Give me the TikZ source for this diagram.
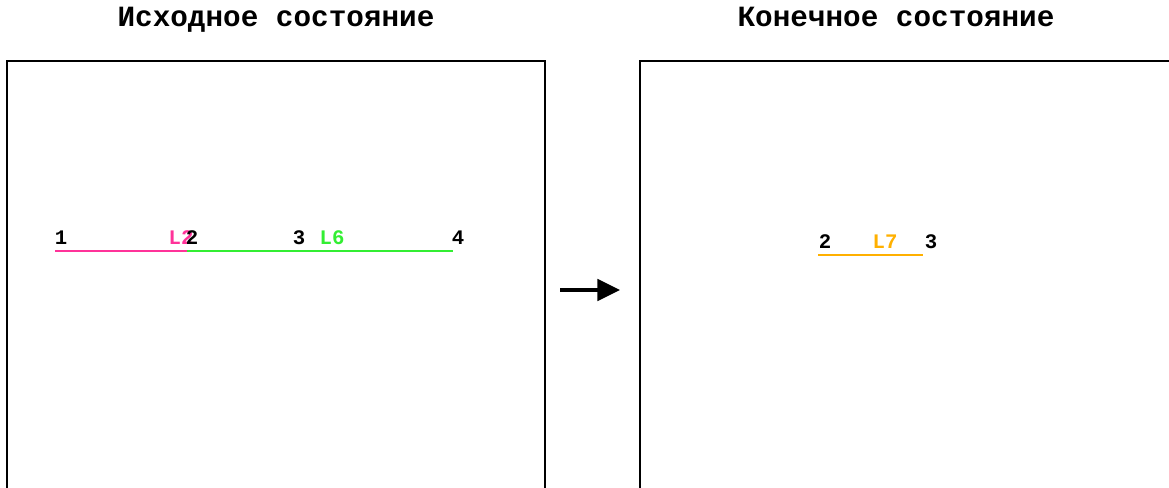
\documentclass[tikz,border=0pt]{standalone}
\usepackage{fontspec}
\newfontfamily\monob{Liberation Mono}[BoldFont={Liberation Mono Bold}]
\usetikzlibrary{arrows.meta}
\definecolor{lpink}{HTML}{FF3399}
\definecolor{lgreen}{HTML}{33EE33}
\definecolor{lorange}{HTML}{FFB000}
\tikzset{
  title/.style={font=\monob\bfseries\fontsize{22}{24}\selectfont, inner sep=0pt, anchor=base},
  ptlabel/.style={font=\monob\bfseries\fontsize{15.5}{17}\selectfont, inner sep=0pt, text=black, anchor=base},
  frame/.style={line width=1.6pt, black},
  seg/.style={line width=1.5pt}
}
\begin{document}
\begin{tikzpicture}[x=0.75pt,y=-0.75pt]
\useasboundingbox (0,0) rectangle (1169,488);
% titles
\node[title] (t1) at (276,27) {Исходное состояние};
\node[title] (t2) at (896,27) {Конечное состояние};
% frames
\draw[frame] (7,490) -- (7,61) -- (545,61) -- (545,490);
\draw[frame] (640,490) -- (640,61) -- (1172,61);
% left segments
\coordinate (p1) at (55,251);
\coordinate (p2) at (187,251);
\coordinate (p4) at (453,251);
\draw[seg, lpink] (p1) -- (p2);
\draw[seg, lgreen] (p2) -- (p4);
\node[ptlabel] (n1) at (61,244) {1};
\node[ptlabel, text=lpink] (l2) at (181,244) {L2};
\node[ptlabel] (n2) at (192,244) {2};
\node[ptlabel] (n3) at (299,244) {3};
\node[ptlabel, text=lgreen] (l6) at (332,244) {L6};
\node[ptlabel] (n4) at (458,244) {4};
% right segment
\coordinate (q2) at (818,255);
\coordinate (q3) at (923,255);
\draw[seg, lorange] (q2) -- (q3);
\node[ptlabel] (m2) at (825,248) {2};
\node[ptlabel, text=lorange] (l7) at (885,248) {L7};
\node[ptlabel] (m3) at (931,248) {3};
% arrow
\coordinate (a1) at (560,290);
\coordinate (a2) at (620,290);
\draw[line width=3pt, -{Triangle[length=17pt,width=16pt]}] (a1) -- (a2);
\end{tikzpicture}
\end{document}
